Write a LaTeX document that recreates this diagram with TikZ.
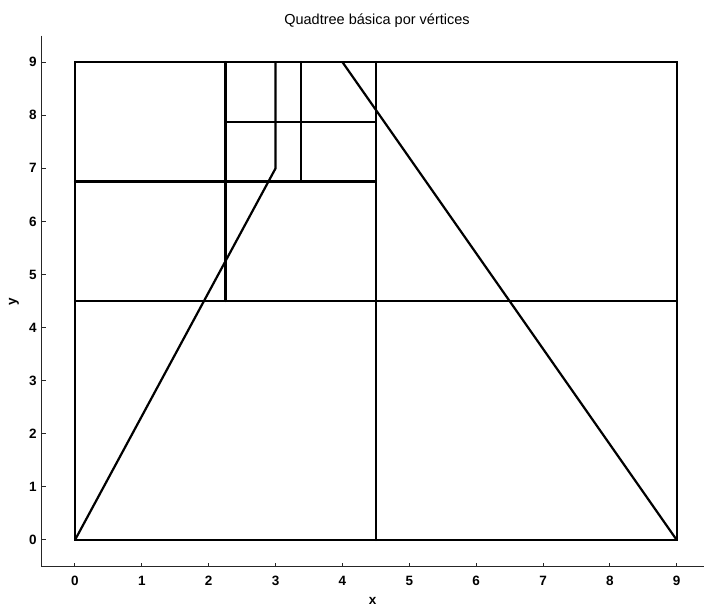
\documentclass[tikz,border=0pt]{standalone}
\usepackage{fontspec}
\setmainfont{Liberation Sans}
\begin{document}
\begin{tikzpicture}[x=66.86pt,y=53.1pt,
  qt/.style={line width=2.2pt,line cap=round},
  ax/.style={line width=1pt,black!85},
  tl/.style={inner sep=0pt,font=\fontsize{13.5}{14}\selectfont\bfseries}]
\useasboundingbox (-1.1217,-1.2618) rectangle (9.4077,10.1695);
% axes
\draw[ax] (-0.5,9.5) -- (-0.5,-0.5) -- (9.4077,-0.5);
\foreach \i in {0,...,9} {
  \draw[ax] (\i,-0.5) -- ++(0,4pt);
  \draw[ax] (-0.5,\i) -- ++(4pt,0);
  \node[tl] (xt\i) at (\i,-0.772) {\i};
  \node[tl,anchor=east] (yt\i) at (-0.57,\i) {\i};
}
\node[font=\fontsize{14.5}{15}\selectfont,anchor=base,inner sep=0pt] (title) at (4.517,9.699) {Quadtree básica por vértices};
\node[tl] (xl) at (4.45,-1.149) {x};
\node[tl,rotate=90] (yl) at (-0.912,4.48) {y};
% quadtree
\draw[qt] (0,0) rectangle (9,9);
\draw[qt] (4.5,0) -- (4.5,9);
\draw[qt] (0,4.5) -- (9,4.5);
\draw[qt] (0,6.75) -- (4.5,6.75);
\draw[qt] (2.25,4.5) -- (2.25,9);
\draw[qt] (2.25,7.875) -- (4.5,7.875);
\draw[qt] (3.375,6.75) -- (3.375,9);
% polygon
\draw[qt] (0,0) -- (3,7) -- (3,9);
\draw[qt] (4,9) -- (9,0);
\end{tikzpicture}
\end{document}
